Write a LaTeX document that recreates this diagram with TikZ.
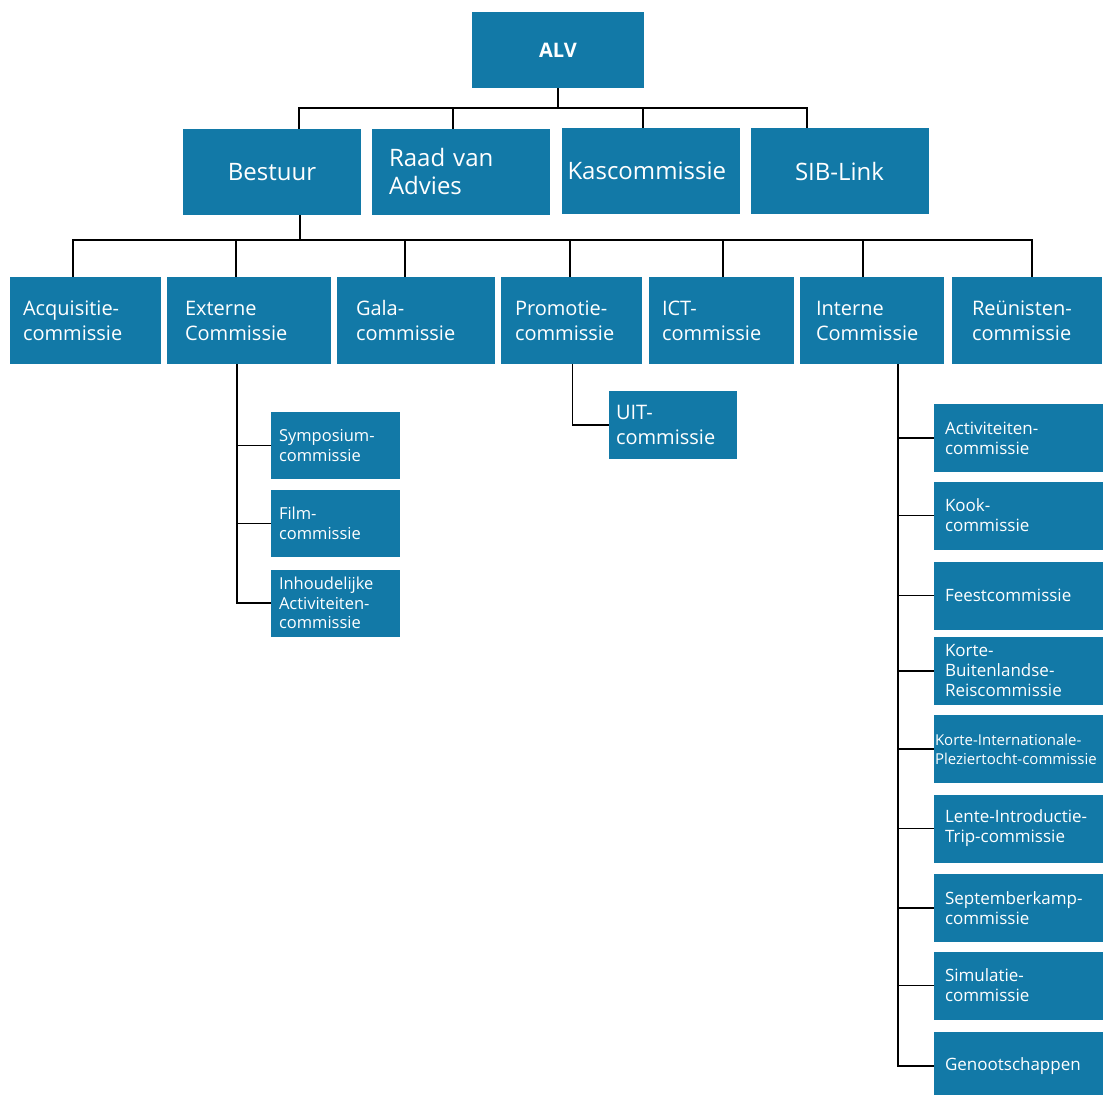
\documentclass[tikz,border=0pt]{standalone}
\usepackage{fontspec}
\setmainfont{Open Sans}
\definecolor{orgblue}{RGB}{18,121,167}

\begin{document}
\begin{tikzpicture}[x=1pt, y=-1pt,
    box/.style={fill=orgblue, text=white, inner sep=0pt, align=left},
    topbox/.style={box, align=center, minimum width=172pt, minimum height=76pt,
        font=\fontsize{20}{24}\selectfont\bfseries},
    mainbox/.style={box, align=center, minimum width=178pt, minimum height=86pt,
        text width=150pt, font=\fontsize{24}{28}\selectfont},
    combox/.style={box, minimum height=87pt, font=\fontsize{20}{25}\selectfont},
    extbox/.style={box, minimum width=129pt, minimum height=67pt, text width=113pt,
        font=\fontsize{16.5}{19.5}\selectfont},
    intbox/.style={box, minimum width=169pt, minimum height=68pt, text width=147pt,
        font=\fontsize{17}{20}\selectfont},
    link/.style={line width=1.8pt, black}]

    \useasboundingbox (0,0) rectangle (1107,1094);

    % top
    \node[topbox] (alv) at (558,50) {ALV};

    % bestuur en adviesorganen
    \node[mainbox] (bestuur) at (272,172) {Bestuur};
    \node[mainbox, align=left, text width=144pt] (raad) at (461,172) {Raad van\\Advies};
    \node[mainbox, align=left, text width=166pt] (kas) at (650.5,171) {Kascommissie};
    \node[mainbox] (sib) at (839.5,171) {SIB-Link};

    % commissies
    \node[combox, minimum width=151pt, text width=125pt] (acq) at (85.5,320.5) {Acquisitie-\\commissie};
    \node[combox, minimum width=164pt, text width=128pt] (extern) at (249,320.5) {Externe\\Commissie};
    \node[combox, minimum width=158pt, text width=120pt] (gala) at (416,320.5) {Gala-\\commissie};
    \node[combox, minimum width=141pt, text width=113pt] (promo) at (571.5,320.5) {Promotie-\\commissie};
    \node[combox, minimum width=145pt, text width=119pt] (ict) at (721.5,320.5) {ICT-\\commissie};
    \node[combox, minimum width=144pt, text width=112pt] (intern) at (872,320.5) {Interne\\Commissie};
    \node[combox, minimum width=150pt, text width=110pt] (reunist) at (1027,320.5) {Reünisten-\\commissie};

    % onder externe commissie
    \node[extbox] (symp) at (335.5,445.5) {Symposium-\\commissie};
    \node[extbox] (film) at (335.5,523.5) {Film-\\commissie};
    \node[extbox] (inhoud) at (335.5,603) {Inhoudelijke\\Activiteiten-\\commissie};

    % onder promotiecommissie
    \node[combox, minimum width=128pt, minimum height=68pt, text width=114pt] (uit) at (673,425) {UIT-\\commissie};

    % onder interne commissie
    \node[intbox] (activ) at (1018.5,438) {Activiteiten-\\commissie};
    \node[intbox] (kook) at (1018.5,515.5) {Kook-\\commissie};
    \node[intbox] (feest) at (1018.5,595.5) {Feestcommissie};
    \node[intbox] (kbr) at (1018.5,671) {Korte-\\Buitenlandse-\\Reiscommissie};
    \node[intbox, text width=167pt, font=\fontsize{15}{19}\selectfont] (kip) at (1018.5,749) {Korte-Internationale-\\Pleziertocht-commissie};
    \node[intbox] (lit) at (1018.5,828.5) {Lente-Introductie-\\Trip-commissie};
    \node[intbox] (sept) at (1018.5,908) {Septemberkamp-\\commissie};
    \node[intbox] (simul) at (1018.5,985.5) {Simulatie-\\commissie};
    \node[intbox] (genoot) at (1018.5,1066) {Genootschappen};

    % lijnen
    \coordinate (busA) at (558,108);
    \draw[link] (alv) -- (busA);
    \foreach \n/\dx in {bestuur/27, raad/-8, kas/-7.5, sib/-32.5}
        \draw[link] (busA) -| ([xshift=\dx pt]\n.north);

    \coordinate (busB) at (300,240);
    \draw[link] ([xshift=28pt]bestuur.south) -- (busB);
    \foreach \n/\dx in {acq/-12.5, extern/-13, gala/-11, promo/-1.5, ict/1.5, intern/-9, reunist/5}
        \draw[link] (busB) -| ([xshift=\dx pt]\n.north);

    \foreach \n in {symp, film, inhoud}
        \draw[link] ([xshift=-12pt]extern.south) |- (\n.west);

    \draw[link] ([xshift=1pt]promo.south) |- (uit.west);

    \foreach \n in {activ, kook, feest, kbr, kip, lit, sept, simul, genoot}
        \draw[link] ([xshift=26pt]intern.south) |- (\n.west);
\end{tikzpicture}
\end{document}
